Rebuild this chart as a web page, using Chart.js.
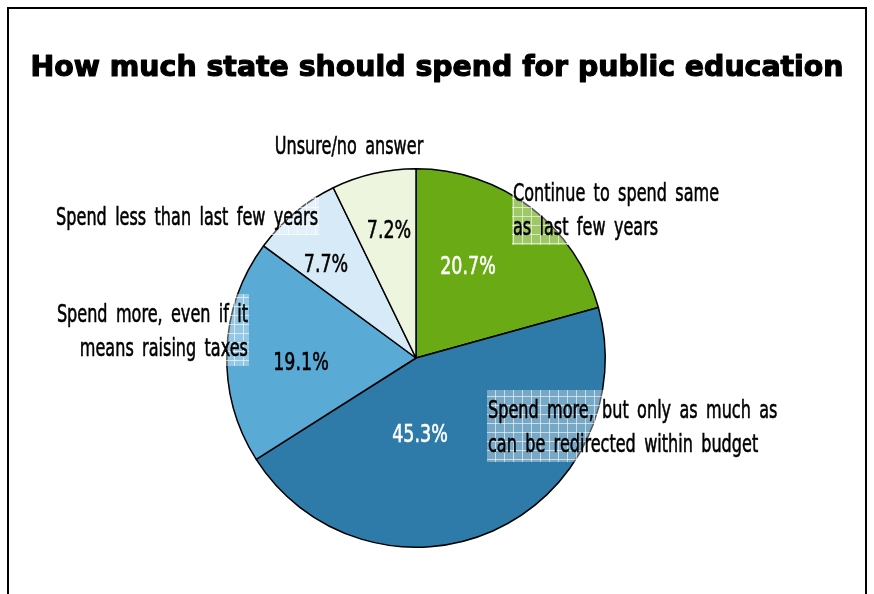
<!DOCTYPE html>
<html>
<head>
<meta charset="utf-8">
<script src="https://cdn.jsdelivr.net/npm/chart.js@4.4.1/dist/chart.umd.min.js"></script>
<style>
  html, body { margin: 0; padding: 0; background: #fff; }
  #chartSpend { display: block; }
</style>
</head>
<body>
<canvas id="chartSpend" width="874" height="594"></canvas>
<script>
const chartTitle = 'How much state should spend for public education';
const categories = [
  'Continue to spend same as last few years',
  'Spend more, but only as much as can be redirected within budget',
  'Spend more, even if it means raising taxes',
  'Spend less than last few years',
  'Unsure/no answer',
];
const shares = [20.7, 45.3, 19.1, 7.7, 7.2];
const sliceColors = ['#6aaa14', '#2e7aa8', '#5aaad6', '#d6eaf8', '#eef5de'];
const valueColors = ['#ffffff', '#ffffff', '#000000', '#000000', '#000000'];

// narrow caption look: a regular face squeezed horizontally
const labelFont = "25px 'DejaVu Sans', sans-serif";
const squeeze = 0.643;
const valueSqueeze = 0.7;

// caption and value placement per slice (x, baselines)
const captions = [
  { lines: ['Continue to spend same', 'as last few years'], x: 513, y: 201, align: 'left', vx: 468, vy: 274 },
  { lines: ['Spend more, but only as much as', 'can be redirected within budget'], x: 488, y: 418, align: 'left', vx: 420, vy: 442 },
  { lines: ['Spend more, even if it', 'means raising taxes'], x: 248, y: 322, align: 'right', vx: 301, vy: 370 },
  { lines: ['Spend less than last few years'], x: 318, y: 225, align: 'right', vx: 326, vy: 272 },
  { lines: ['Unsure/no answer'], x: 349, y: 154, align: 'center', vx: 389, vy: 238 },
];

const makePattern = (ctx) => {
  const tile = document.createElement('canvas');
  tile.width = 9;
  tile.height = 9;
  const t = tile.getContext('2d');
  t.fillStyle = 'rgba(255,255,255,0.35)';
  t.fillRect(0, 0, 9, 9);
  t.fillStyle = 'rgba(255,255,255,0.6)';
  t.fillRect(0, 0, 9, 1);
  t.fillRect(0, 0, 1, 9);
  return ctx.createPattern(tile, 'repeat');
};

const textWidth = (ctx, s, sx) => ctx.measureText(s).width * sx;

const narrowText = (ctx, s, x, y, align, sx) => {
  const w = textWidth(ctx, s, sx);
  let left = x;
  if (align === 'right') left = x - w;
  if (align === 'center') left = x - w / 2;
  ctx.save();
  ctx.translate(left, y);
  ctx.scale(sx, 1);
  ctx.textAlign = 'left';
  ctx.fillText(s, 0, 0);
  ctx.strokeText(s, 0, 0);
  ctx.restore();
};

const framePlugin = {
  id: 'frame',
  beforeDraw(chart) {
    const { ctx } = chart;
    ctx.save();
    ctx.fillStyle = '#fff';
    ctx.fillRect(0, 0, chart.width, chart.height);
    ctx.strokeStyle = '#000';
    ctx.lineWidth = 2;
    ctx.strokeRect(8, 8, 858, 600);
    ctx.fillStyle = '#000';
    ctx.lineWidth = 1.2;
    ctx.lineJoin = 'round';
    ctx.font = "bold 29px 'DejaVu Sans', sans-serif";
    ctx.textAlign = 'center';
    ctx.textBaseline = 'middle';
    ctx.fillText(chartTitle, 437, 68, 813);
    ctx.strokeText(chartTitle, 437, 68, 813);
    ctx.restore();
  },
};

const captionPlugin = {
  id: 'captions',
  afterDatasetsDraw(chart) {
    const { ctx } = chart;
    const lineGap = 34;
    const pattern = makePattern(ctx);
    ctx.save();
    ctx.font = labelFont;
    ctx.textBaseline = 'alphabetic';
    ctx.lineWidth = 0.6;

    captions.forEach((c, i) => {
      ctx.wordSpacing = '5px';
      const w = Math.max(...c.lines.map((l) => textWidth(ctx, l, squeeze)));
      let left = c.x;
      if (c.align === 'right') left = c.x - w;
      if (c.align === 'center') left = c.x - w / 2;
      const top = c.y - 28;
      const h = (c.lines.length - 1) * lineGap + 38;
      ctx.fillStyle = pattern;
      ctx.fillRect(left - 1, top, w + 2, h);

      ctx.fillStyle = '#000';
      ctx.strokeStyle = '#000';
      c.lines.forEach((l, k) => narrowText(ctx, l, c.x, c.y + k * lineGap, c.align, squeeze));

      ctx.wordSpacing = '0px';
      ctx.fillStyle = valueColors[i];
      ctx.strokeStyle = valueColors[i];
      narrowText(ctx, `${shares[i].toFixed(1)}%`, c.vx, c.vy, 'center', valueSqueeze);
    });
    ctx.restore();
  },
};

const config = {
  type: 'pie',
  data: {
    labels: categories,
    datasets: [
      {
        data: shares,
        backgroundColor: sliceColors,
        borderColor: '#000',
        borderWidth: 1.5,
      },
    ],
  },
  options: {
    responsive: false,
    animation: false,
    layout: {
      padding: { top: 168, bottom: 46, left: 226, right: 268 },
    },
    plugins: {
      legend: { display: false },
      title: { display: false },
      tooltip: { enabled: false },
    },
  },
  plugins: [framePlugin, captionPlugin],
};

new Chart(document.querySelector('#chartSpend'), config);
</script>
</body>
</html>
